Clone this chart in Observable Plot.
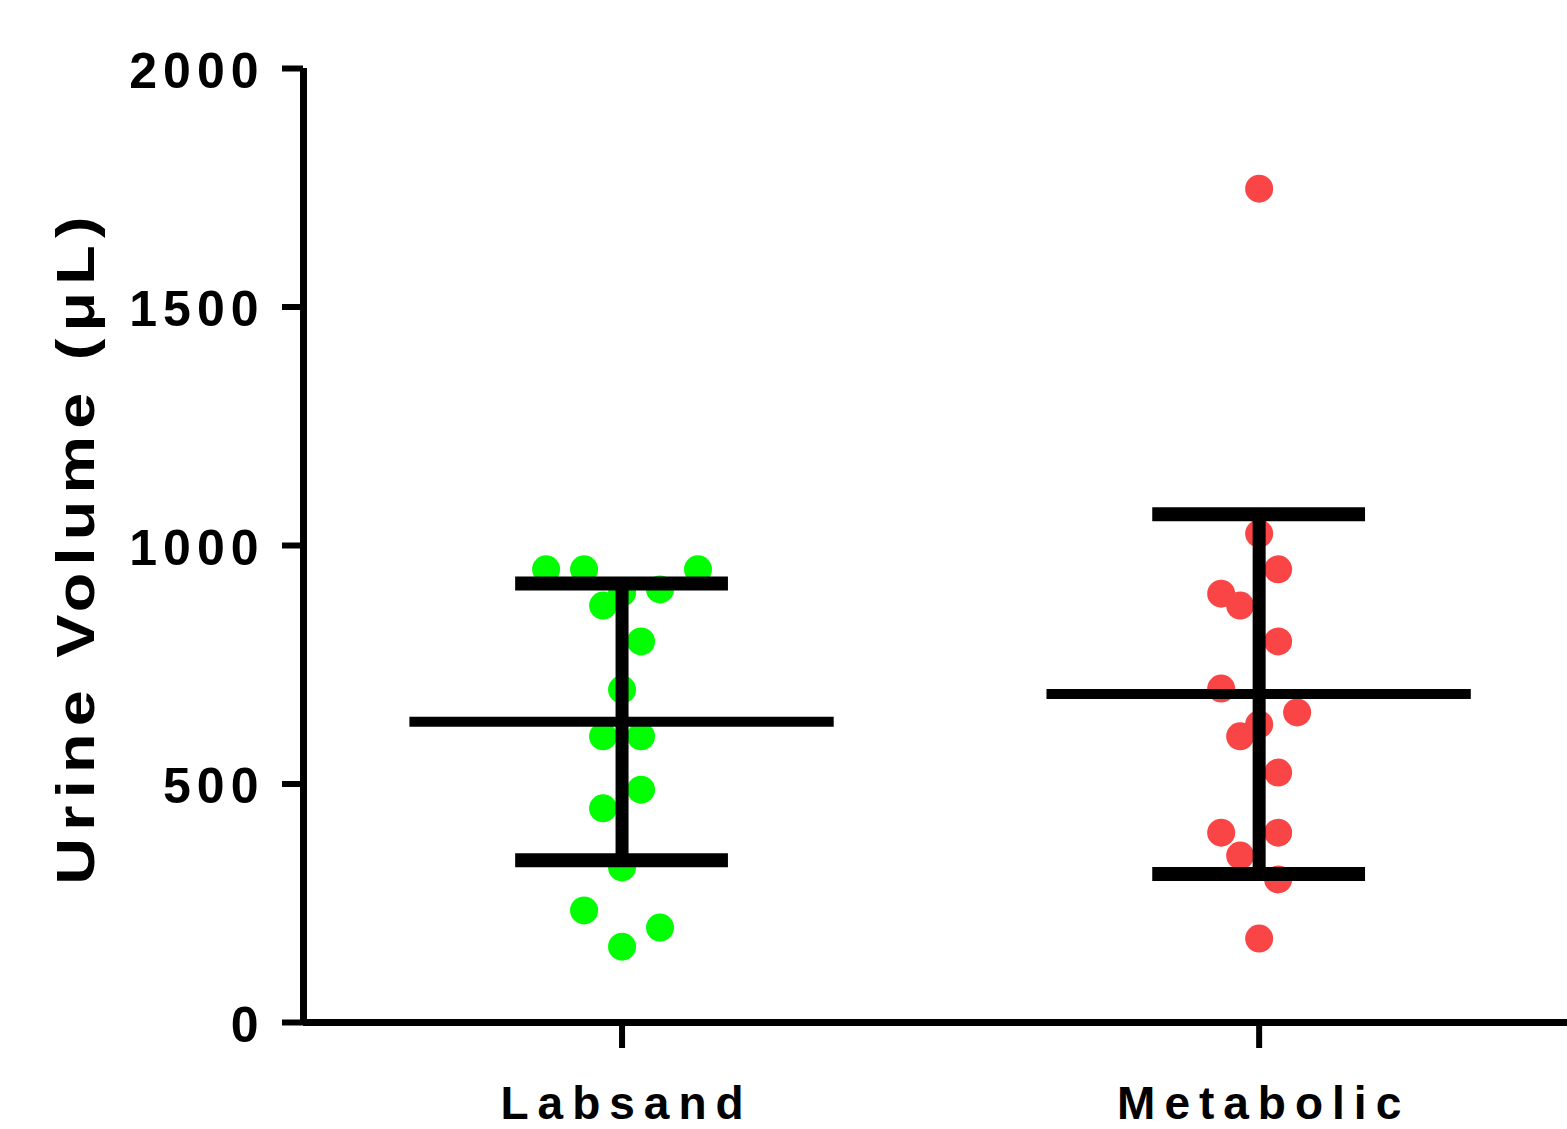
<!DOCTYPE html>
<html>
<head>
<meta charset="utf-8">
<script src="https://cdn.jsdelivr.net/npm/d3@7"></script>
<script src="https://cdn.jsdelivr.net/npm/@observablehq/plot@0.6"></script>
<style>
  html, body { margin: 0; padding: 0; background: #fff; }
  #chart svg { display: block; }
</style>
</head>
<body>
<div id="chart"></div>
<script>
// ---- Data ----
const groups = ["Labsand", "Metabolic"];
const labsandValues = [950, 950, 950, 908, 901, 874, 799, 698, 600, 600, 488, 449, 325, 235, 199, 159];
const labsandSlots  = [-4, -2, 4, 2, 0, -1, 1, 0, -1, 1, 1, -1, 0, -2, 2, 0];
const metabolicValues = [1748, 1025, 950, 899, 874, 799, 700, 650, 625, 600, 524, 398, 398, 350, 300, 176];
const metabolicSlots  = [0, 0, 1, -2, -1, 1, -2, 2, 0, -1, 1, -2, 1, -1, 1, 0];
const groupColors = ["#00ff00", "#f94545"];
const yTicks = [0, 500, 1000, 1500, 2000];
const yLabel = "Urine Volume (μL)";

// ---- Layout constants ----
const slotStep = 0.0298;   // horizontal spacing of swarm columns (in category units)
const capHalf = 0.167;     // half width of SD caps
const meanHalf = 0.333;    // half width of mean line

const seriesValues = [labsandValues, metabolicValues];
const seriesSlots = [labsandSlots, metabolicSlots];
const points = [];
seriesValues.forEach((vals, gi) => vals.forEach((v, i) =>
  points.push({gi, group: groups[gi], x: gi + seriesSlots[gi][i] * slotStep, value: v})));
const stats = seriesValues.map((vals, gi) => {
  const m = d3.mean(vals), s = d3.deviation(vals);
  return {gi, mean: m, lo: m - s, hi: m + s};
});

const chart = Plot.plot({
  width: 1567,
  height: 1129,
  marginLeft: 303,
  marginRight: 0,
  marginTop: 68,
  marginBottom: 107,
  style: {fontFamily: "'Liberation Sans', Arial, sans-serif", fontWeight: "bold", color: "#000", background: "#fff"},
  x: {type: "linear", domain: [-0.5, 1.484]},
  y: {domain: [0, 2000]},
  marks: [
    Plot.dot(points, {x: "x", y: "value", r: 14, fill: d => groupColors[d.gi], stroke: "none"}),
    Plot.ruleY(stats, {y: "mean", x1: d => d.gi - meanHalf, x2: d => d.gi + meanHalf, stroke: "#000", strokeWidth: 10}),
    Plot.ruleX(stats, {x: "gi", y1: "lo", y2: "hi", stroke: "#000", strokeWidth: 13}),
    Plot.ruleY(stats, {y: "hi", x1: d => d.gi - capHalf, x2: d => d.gi + capHalf, stroke: "#000", strokeWidth: 14}),
    Plot.ruleY(stats, {y: "lo", x1: d => d.gi - capHalf, x2: d => d.gi + capHalf, stroke: "#000", strokeWidth: 14}),
    Plot.ruleX([-0.5], {stroke: "#000", strokeWidth: 7}),
    Plot.ruleY([0], {stroke: "#000", strokeWidth: 7}),
    Plot.axisY({ticks: yTicks, tickSize: 21, tickPadding: 18, strokeWidth: 6, stroke: "#000", fill: "#000",
                fontSize: 50, tickFormat: d => String(d), label: null}),
    Plot.axisX({ticks: [0, 1], tickSize: 26, tickPadding: 38, strokeWidth: 6, stroke: "#000", fill: "#000",
                fontSize: 46, tickFormat: i => groups[i], label: null}),
    Plot.text([yLabel], {frameAnchor: "left", textAnchor: "middle", rotate: -90, dx: -227, dy: 5,
                         fontSize: 54, fontWeight: "bold", fill: "#000"})
  ]
});

// Typographic tweaks to mimic the original export
function appendScale(el, sx) {
  const t = el.getAttribute("transform");
  if (t) el.setAttribute("transform", t + ` scale(${sx},1)`);
}
d3.select(chart).selectAll('g[aria-label="y-axis tick label"]').each(function() {
  const t = this.getAttribute("transform") || "";
  this.setAttribute("transform", (t + " translate(0,3)").trim());
});
d3.select(chart).selectAll('g[aria-label="y-axis tick label"] text').each(function() {
  this.style.letterSpacing = "6px";
});
d3.select(chart).selectAll('g[aria-label="x-axis tick label"] text').each(function() {
  this.style.letterSpacing = "9px";
  this.setAttribute("dx", 4.5);
});
d3.select(chart).selectAll('g[aria-label="text"] text').each(function() {
  this.style.letterSpacing = "6px";
  this.setAttribute("dx", 3);
  appendScale(this, 1.2);
});

document.getElementById("chart").appendChild(chart);
</script>
</body>
</html>
